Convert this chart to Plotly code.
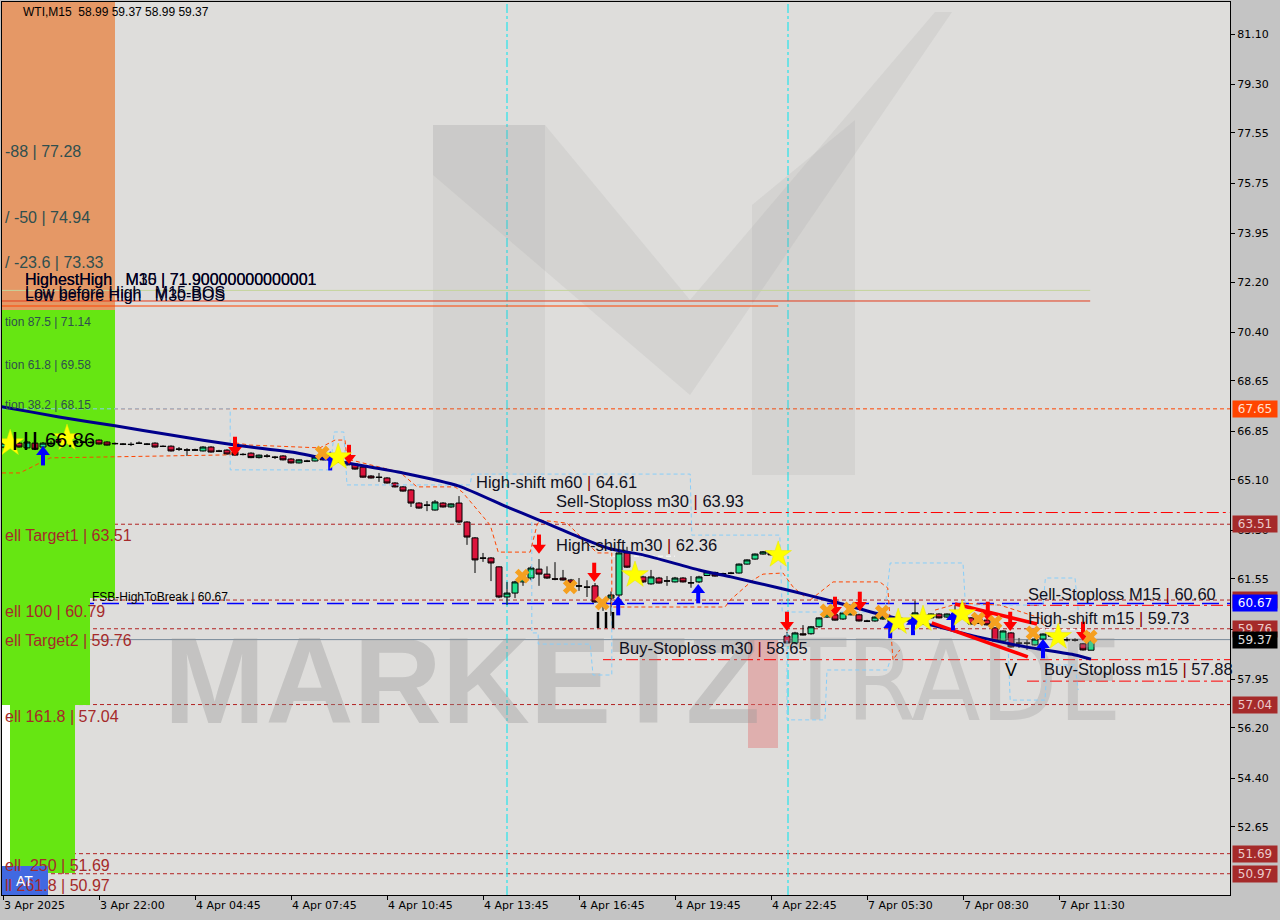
import plotly.graph_objects as go

# ---------------- data ----------------
time_labels = ["3 Apr 2025", "3 Apr 22:00", "4 Apr 04:45", "4 Apr 07:45", "4 Apr 10:45",
               "4 Apr 13:45", "4 Apr 16:45", "4 Apr 19:45", "4 Apr 22:45", "7 Apr 05:30",
               "7 Apr 08:30", "7 Apr 11:30"]
time_label_idx = [0, 12, 24, 36, 48, 60, 72, 84, 96, 108, 120, 132]

y_ticks = [81.10, 79.30, 77.55, 75.75, 73.95, 72.20, 70.40, 68.65, 66.85, 65.10,
           63.30, 61.55, 59.75, 57.95, 56.20, 54.40, 52.65]

opens = [66.28,66.38,66.42,66.25,66.42,66.28,66.42,66.55,66.45,66.42,
         66.46,66.45,66.53,66.46,66.41,66.39,66.38,66.41,66.39,66.42,
         66.31,66.31,66.21,66.18,66.18,66.14,66.28,66.14,66.17,66.10,
         66.02,66.06,65.90,65.96,65.92,65.96,65.85,65.71,65.78,65.78,
         65.92,65.82,65.88,65.74,65.67,65.56,65.24,65.20,65.17,64.99,
         64.85,64.74,64.27,64.20,64.02,64.27,64.13,64.27,63.59,63.02,
         62.30,62.30,61.98,60.90,61.04,61.44,61.58,61.90,61.72,61.55,
         61.58,61.51,61.30,61.26,61.30,60.76,60.86,60.97,62.48,61.80,
         61.62,61.37,61.58,61.48,61.44,61.58,61.40,61.44,61.67,61.78,
         61.70,61.76,61.76,62.08,62.26,62.44,62.52,62.41,59.50,59.25,
         59.58,59.58,59.83,60.18,60.26,60.11,60.26,60.26,60.04,60.04,
         60.11,60.15,60.00,60.07,60.11,60.15,60.15,60.29,60.18,60.11,
         60.33,60.15,60.12,60.07,59.79,59.32,59.61,59.25,59.25,59.18,
         59.39,59.52,59.47,59.37,59.36,59.22,58.99]
highs = [66.46,66.48,66.46,66.49,66.46,66.46,66.50,66.60,66.55,66.52,
         66.50,66.49,66.56,66.49,66.44,66.42,66.45,66.48,66.42,66.45,
         66.34,66.34,66.28,66.24,66.22,66.31,66.31,66.18,66.20,66.13,
         66.06,66.09,66.01,66.03,65.96,65.99,65.88,65.84,65.82,65.95,
         65.95,65.92,65.91,65.77,65.70,65.60,65.27,65.35,65.20,65.02,
         64.88,64.77,64.30,64.34,64.38,64.30,64.26,64.52,63.62,63.05,
         62.48,62.33,62.00,61.44,61.48,61.69,62.00,62.26,62.00,62.15,
         61.87,61.55,61.58,61.50,61.40,60.80,61.10,62.60,62.70,61.90,
         61.66,61.87,61.62,61.65,61.62,61.61,61.65,61.66,61.83,61.81,
         61.77,61.80,62.10,62.25,62.46,62.55,62.56,62.44,59.65,59.65,
         59.89,59.86,60.17,60.31,60.30,60.36,60.39,60.30,60.08,60.20,
         60.21,60.18,60.10,60.10,60.76,60.28,60.31,60.32,60.31,60.60,
         60.40,60.18,60.16,60.10,59.82,59.70,59.64,59.43,59.36,59.41,
         59.59,59.58,59.52,59.45,59.42,59.25,59.37]
lows = [66.24,66.33,66.26,66.22,66.17,66.24,66.36,66.42,66.40,66.38,
        66.42,66.41,66.37,66.33,66.37,66.35,66.32,66.39,66.35,66.26,
        66.28,66.12,66.14,65.96,66.14,66.12,66.08,66.10,66.01,65.97,
        65.98,65.88,65.87,65.90,65.85,65.80,65.69,65.69,65.74,65.76,
        65.80,65.79,65.72,65.62,65.47,65.18,65.15,65.03,64.97,64.83,
        64.68,64.13,64.07,63.98,64.00,64.11,64.10,63.55,62.77,61.76,
        62.16,61.47,60.86,60.61,60.86,61.30,61.50,61.30,61.55,61.50,
        61.49,61.37,61.12,60.90,60.70,60.40,60.22,60.90,61.94,61.65,
        61.40,61.34,61.38,61.30,61.42,61.42,61.23,61.40,61.65,61.63,
        61.68,61.72,61.74,62.06,62.24,62.42,62.39,62.32,59.22,59.22,
        59.52,59.55,59.80,60.15,60.05,60.08,60.24,60.02,60.00,60.01,
        60.08,59.98,59.96,60.03,60.08,60.12,60.12,60.13,60.15,60.08,
        60.22,59.91,59.93,59.88,59.30,59.29,59.09,59.07,59.00,59.15,
        59.36,59.45,59.40,59.30,59.30,58.98,58.99]
closes = [66.42,66.44,66.28,66.46,66.20,66.42,66.40,66.45,66.50,66.48,
          66.45,66.44,66.39,66.35,66.40,66.38,66.37,66.42,66.38,66.28,
          66.30,66.14,66.20,66.17,66.17,66.28,66.10,66.13,66.03,65.99,
          66.01,65.90,65.99,65.95,65.91,65.82,65.71,65.82,65.77,65.92,
          65.82,65.88,65.74,65.64,65.49,65.20,65.17,65.19,64.99,64.85,
          64.70,64.27,64.09,64.19,64.31,64.13,64.24,63.59,63.05,62.23,
          62.29,62.12,60.90,61.04,61.44,61.55,61.94,61.72,61.58,61.54,
          61.51,61.40,61.29,61.25,60.72,60.68,60.97,62.48,61.97,61.70,
          61.44,61.62,61.40,61.47,61.58,61.44,61.41,61.62,61.80,61.65,
          61.74,61.75,62.08,62.23,62.44,62.52,62.41,62.35,59.25,59.61,
          59.54,59.83,60.15,60.29,60.07,60.33,60.36,60.04,60.03,60.18,
          60.18,60.00,60.05,60.06,60.33,60.26,60.29,60.15,60.29,60.33,
          60.28,59.93,59.95,59.90,59.32,59.68,59.11,59.24,59.24,59.39,
          59.57,59.50,59.45,59.36,59.35,59.00,59.37]
bar_idx = list(range(len(opens)))

ma_idx = [-1, 0, 7, 14, 21, 29, 36, 43, 50, 57, 63, 67, 72, 76, 80, 87, 91, 97, 101,
          104, 110, 116, 122, 128, 134, 136]
ma_val = [67.77, 67.72, 67.36, 67.04, 66.71, 66.35, 66.10, 65.71, 65.35, 64.88, 64.13,
          63.66, 63.05, 62.62, 62.41, 61.87, 61.62, 61.22, 60.94, 60.72, 60.25, 59.89,
          59.46, 59.10, 58.82, 58.67]

lb_up_idx = [-1, 28.4, 28.4, 40.9, 41.4, 42.6, 43.0, 58.4, 58.6, 85.9, 86.1, 97.1, 97.4,
             110.2, 110.9, 120.0, 120.3, 130.0, 130.3, 134.0, 134.4]
lb_up_val = [67.65, 67.65, 65.46, 65.46, 66.82, 66.82, 64.92, 64.92, 65.31, 65.31, 63.12,
             63.12, 60.36, 60.36, 62.12, 62.12, 60.61, 60.61, 61.58, 61.58, 60.43]
lb_low_idx = [66.1, 66.1, 66.9, 66.9, 73.4, 73.75, 76.1, 76.1, None,
              98.0, 98.0, 102.75, 103.0, 110.5, 110.9, None,
              125.6, 125.9, 130.25, 130.5, 134.0, 134.4]
lb_low_val = [63.59, 59.61, 59.61, 59.21, 59.21, 58.10, 58.10, 60.79, None,
              60.36, 56.49, 56.49, 58.28, 58.28, 58.64, None,
              59.36, 57.20, 57.20, 58.46, 58.46, 57.56]
or_idx = [-1, 2.1, 5.9, 28.4, 29.0, 30.9, 39.6, 41.5, 42.75, 43.0, 49.6, 51.75, 56.5,
          57.4, 60.9, 61.9, 65.9, 66.75, 67.1, 70.5, 74.25, 76.1, 76.1, 90.25, 90.9,
          93.75, 95.0, 97.5, 98.75, 100.25, None,
          100.9, 103.75, 109.6, 110.6, 111.25, 112.1, None,
          116.5, 119.6, 124.6, 129.6, 130.25]
or_val = [65.35, 65.35, 65.89, 66.00, 66.43, 66.35, 66.25, 66.53, 66.53, 65.85, 65.38,
          64.85, 64.85, 64.67, 63.48, 62.51, 62.51, 63.48, 63.66, 63.55, 62.48, 62.48,
          60.54, 60.54, 60.79, 61.51, 61.72, 61.76, 61.26, 60.90, None,
          60.79, 61.44, 61.44, 61.22, 58.64, 59.00, None,
          60.43, 60.68, 60.61, 60.15, 59.79]

chan_up_idx = [119.0, 129.25]
chan_up_val = [60.65, 59.93]
chan_low_idx = [116.1, 128.1]
chan_low_val = [59.97, 58.75]

down_idx = [29, 43.25, 67, 73.9, 98, 104, 107.1, 123.1, 125.9, 135]
down_val = [66.28, 65.99, 62.77, 61.76, 60.00, 60.54, 60.72, 60.36, 60.00, 59.64]
up_idx = [5, 40.9, 76.9, 86.9, 110.9, 113.75, 118.75, 130]
up_val = [65.99, 65.81, 60.61, 61.04, 59.79, 59.90, 60.07, 59.07]
star_idx = [0.9, 8, 41.9, 79, 96.9, 111.9, 115, 119.9, 131.9]
star_val = [66.42, 66.60, 65.92, 61.69, 62.41, 60.00, 60.11, 60.29, 59.47]
cross_idx = [39.9, 64.9, 70.9, 74.9, 103, 105.9, 109.9, 121.9, 124, 128.75, 135.9]
cross_val = [66.07, 61.65, 61.26, 60.68, 60.40, 60.47, 60.36, 60.11, 60.00, 59.61, 59.47]

brown_levels = [63.51, 60.79, 59.76, 57.04, 51.69, 50.97]
orange_level = 67.65
blue_level = 60.67
price_level = 59.37
dashdot_levels = [(63.93, 67.1), (58.65, 75.0), (60.60, 128.0), (57.88, 128.0)]
hh_level = 71.90
bos_levels = [(71.52, 135.9, "#E23B1B"), (71.34, 96.9, "#FF4500")]

left_labels = [
    ("-88 | 77.28", 77.28, "#2F4F4F", 16),
    ("/ -50 | 74.94", 74.94, "#2F4F4F", 16),
    ("/ -23.6 | 73.33", 73.33, "#2F4F4F", 16),
    ("tion 87.5 | 71.14", 71.14, "#2F4F4F", 12),
    ("tion 61.8 | 69.58", 69.58, "#2F4F4F", 12),
    ("tion 38.2 | 68.15", 68.15, "#2F4F4F", 12),
    ("ell Target1 | 63.51", 63.51, "#A52A2A", 16),
    ("ell 100 | 60.79", 60.79, "#A52A2A", 16),
    ("ell Target2 | 59.76", 59.76, "#A52A2A", 16),
    ("ell 161.8 | 57.04", 57.04, "#A52A2A", 16),
    ("ell\u00a0\u00a0250 | 51.69", 51.69, "#A52A2A", 16),
    ("ll 261.8 | 50.97", 50.97, "#A52A2A", 16),
]

axis_tags = [
    ("67.65", 67.65, "#FF4500", "#FFE0D0"),
    ("63.51", 63.51, "#A52A2A", "#EBCBCB"),
    ("60.79", 60.79, "#A52A2A", "#EBCBCB"),
    ("60.67", 60.67, "#0000FF", "#FFFFFF"),
    ("59.76", 59.76, "#A52A2A", "#EBCBCB"),
    ("59.37", 59.37, "#000000", "#E0E0E0"),
    ("57.04", 57.04, "#A52A2A", "#EBCBCB"),
    ("51.69", 51.69, "#A52A2A", "#EBCBCB"),
    ("50.97", 50.97, "#A52A2A", "#EBCBCB"),
]

# ---------------- helpers (pixel -> axis units, for decorations) ----------------
def dx(px):
    return (px - 3) / 8.0


def dy(py):
    return 81.10 - (py - 34) / 27.87


X0, X1 = dx(2), dx(1230)
Y0, Y1 = dy(895), dy(2)
FONT = "Liberation Sans, Arial, sans-serif"

fig = go.Figure()

# watermark text
fig.add_trace(go.Scatter(x=[dx(462)], y=[dy(692)], mode="text", text=["MARKETZ"],
                         textfont=dict(size=122, family=FONT, color="rgba(150,150,150,0.36)", weight="bold"),
                         hoverinfo="skip", showlegend=False))
fig.add_trace(go.Scatter(x=[dx(953)], y=[dy(692)], mode="text", text=["TRADE"],
                         textfont=dict(size=112, family="DejaVu Sans Condensed, " + FONT,
                                       color="rgba(150,150,150,0.30)"),
                         hoverinfo="skip", showlegend=False))

# envelope step lines
fig.add_trace(go.Scatter(x=lb_up_idx, y=lb_up_val, mode="lines",
                         line=dict(color="#87CEFA", width=1, dash="4px,3px"), hoverinfo="skip",
                         showlegend=False))
fig.add_trace(go.Scatter(x=lb_low_idx, y=lb_low_val, mode="lines", connectgaps=False,
                         line=dict(color="#87CEFA", width=1, dash="4px,3px"), hoverinfo="skip",
                         showlegend=False))
fig.add_trace(go.Scatter(x=or_idx, y=or_val, mode="lines", connectgaps=False,
                         line=dict(color="#FF4500", width=1, dash="4px,3px"), hoverinfo="skip",
                         showlegend=False))

# moving average
fig.add_trace(go.Scatter(x=ma_idx, y=ma_val, mode="lines", line_shape="spline",
                         line=dict(color="#00008B", width=3, smoothing=0.6), hoverinfo="skip",
                         showlegend=False))

# candles
fig.add_trace(go.Candlestick(x=bar_idx, open=opens, high=highs, low=lows, close=closes,
                             increasing=dict(fillcolor="#1FE08C", line=dict(color="#000000", width=1)),
                             decreasing=dict(fillcolor="#DC143C", line=dict(color="#000000", width=1)),
                             whiskerwidth=0, hoverinfo="skip", showlegend=False))

# red channel lines
fig.add_trace(go.Scatter(x=chan_up_idx, y=chan_up_val, mode="lines",
                         line=dict(color="#FF0000", width=3.5), hoverinfo="skip", showlegend=False))
fig.add_trace(go.Scatter(x=chan_low_idx, y=chan_low_val, mode="lines",
                         line=dict(color="#FF0000", width=3.5), hoverinfo="skip", showlegend=False))

# signal markers
PX = 1 / 27.87
fig.add_trace(go.Scatter(x=down_idx, y=[v + 4 * PX for v in down_val], mode="markers",
                         marker=dict(symbol="line-ns", size=9, line=dict(color="#FF0000", width=4)),
                         hoverinfo="skip", showlegend=False))
fig.add_trace(go.Scatter(x=down_idx, y=[v - 3 * PX for v in down_val], mode="markers",
                         marker=dict(symbol="triangle-down", size=12, color="#FF0000", line=dict(width=0)),
                         hoverinfo="skip", showlegend=False))
fig.add_trace(go.Scatter(x=up_idx, y=[v - 4 * PX for v in up_val], mode="markers",
                         marker=dict(symbol="line-ns", size=9, line=dict(color="#0000FF", width=4)),
                         hoverinfo="skip", showlegend=False))
fig.add_trace(go.Scatter(x=up_idx, y=[v + 3 * PX for v in up_val], mode="markers",
                         marker=dict(symbol="triangle-up", size=12, color="#0000FF", line=dict(width=0)),
                         hoverinfo="skip", showlegend=False))
fig.add_trace(go.Scatter(x=star_idx, y=star_val, mode="markers",
                         marker=dict(symbol="star", size=20, color="#FFFF00", line=dict(color="#E8E800", width=0.5)),
                         hoverinfo="skip", showlegend=False))
fig.add_trace(go.Scatter(x=cross_idx, y=cross_val, mode="markers",
                         marker=dict(symbol="x", size=13, color="#F5A020", line=dict(width=0)),
                         hoverinfo="skip", showlegend=False))

shapes = []


def rect_px(x0, y0, x1, y1, color, layer="below"):
    shapes.append(dict(type="rect", xref="x", yref="y", x0=dx(x0), x1=dx(x1), y0=dy(y1), y1=dy(y0),
                       fillcolor=color, line=dict(width=0), layer=layer))


# left colour column
rect_px(2, 2, 115, 310, "#E59866")
rect_px(2, 310, 115, 598, "#66E612")
rect_px(2, 598, 90, 705, "#66E612")
rect_px(10, 705, 75, 873, "#66E612")
rect_px(2, 705, 10, 866, "#FFFFFF")
rect_px(2, 866, 48, 895, "#4169E1")


# M logo watermark
def path_px(pts):
    return "M " + " L ".join(f"{dx(a):.3f},{dy(b):.3f}" for a, b in pts) + " Z"


logo_fill = "rgba(150,150,150,0.13)"
for pts in [
    [(433, 125), (545, 125), (545, 475), (433, 475)],
    [(752, 205), (855, 120), (855, 475), (752, 475)],
    [(433, 125), (545, 125), (690, 300), (935, 12), (952, 12), (690, 395), (433, 175)],
]:
    shapes.append(dict(type="path", xref="x", yref="y", path=path_px(pts), fillcolor=logo_fill,
                       line=dict(width=0), layer="below"))
rect_px(748, 640, 778, 748, "rgba(225,120,120,0.45)")

# level lines
for lv in brown_levels:
    shapes.append(dict(type="line", xref="paper", yref="y", x0=0, x1=1, y0=lv, y1=lv,
                       line=dict(color="#B22222", width=1, dash="4px,3px"), layer="below"))
shapes.append(dict(type="line", xref="paper", yref="y", x0=0, x1=1, y0=orange_level, y1=orange_level,
                   line=dict(color="#FF4500", width=1, dash="4px,3px"), layer="below"))
shapes.append(dict(type="line", xref="paper", yref="y", x0=0, x1=1, y0=blue_level, y1=blue_level,
                   line=dict(color="#0000FF", width=1.5, dash="17px,8px"), layer="below"))
shapes.append(dict(type="line", xref="paper", yref="y", x0=0, x1=1, y0=price_level, y1=price_level,
                   line=dict(color="#778899", width=1), layer="below"))
for lv, start in dashdot_levels:
    shapes.append(dict(type="line", xref="x", yref="y", x0=start, x1=X1, y0=lv, y1=lv,
                       line=dict(color="#FF0000", width=1, dash="12px,4px,3px,4px"), layer="below"))
shapes.append(dict(type="line", xref="x", yref="y", x0=X0, x1=135.9, y0=hh_level, y1=hh_level,
                   line=dict(color="#C4D49C", width=1), layer="below"))
for lv, end, col in bos_levels:
    shapes.append(dict(type="line", xref="x", yref="y", x0=X0, x1=end, y0=lv, y1=lv,
                       line=dict(color=col, width=1), layer="below"))
# white short high-shift lines
shapes.append(dict(type="line", xref="x", yref="y", x0=dx(610), x1=dx(675), y0=62.36, y1=62.36,
                   line=dict(color="#F4F4F4", width=1.5, dash="5px,3px"), layer="below"))
shapes.append(dict(type="line", xref="x", yref="y", x0=dx(1030), x1=dx(1082), y0=59.73, y1=59.73,
                   line=dict(color="#F4F4F4", width=1.5, dash="5px,3px"), layer="below"))
# session separators
for sx in [507, 788]:
    shapes.append(dict(type="line", xref="x", yref="paper", x0=dx(sx), x1=dx(sx), y0=0, y1=1,
                       line=dict(color="#00E5EE", width=1, dash="dashdot"), layer="below"))
# black bars
for bx in [15, 26, 35]:
    shapes.append(dict(type="line", xref="x", yref="y", x0=dx(bx), x1=dx(bx), y0=dy(450), y1=dy(432),
                       line=dict(color="#000000", width=2.5), layer="above"))
for bx in [598, 606, 613]:
    shapes.append(dict(type="line", xref="x", yref="y", x0=dx(bx), x1=dx(bx), y0=dy(628), y1=dy(612),
                       line=dict(color="#000000", width=2.5), layer="above"))

annotations = []


def text_px(px, py, text, size=16, color="#101020", anchor="left", family=FONT):
    annotations.append(dict(xref="x", yref="y", x=dx(px), y=dy(py), text=text, showarrow=False,
                            xanchor=anchor, yanchor="middle", font=dict(size=size, color=color, family=family)))


for txt, lv, col, sz in left_labels:
    annotations.append(dict(xref="paper", yref="y", x=0.0008, y=lv, text=txt, showarrow=False,
                            xanchor="left", yanchor="top", yshift=-1,
                            font=dict(size=sz, color=col, family=FONT)))

BAR = "<span style='color:#8B0000'>|</span>"
nb = "\u00a0"
text_px(21, 12, f"WTI,M15{nb}{nb}58.99 59.37 58.99 59.37", 12, "#000000")
text_px(23, 279, f"HighestHigh{nb}{nb}{nb}M15 | 71.90000000000001", 16, "#000020")
text_px(23, 279, f"HighestHigh{nb}{nb}{nb}M30 | 71.90000000000001", 16, "#000020")
text_px(23, 292, f"Low before High{nb}{nb}{nb}M15-BOS", 16, "#000020")
text_px(23, 295, f"Low before High{nb}{nb}{nb}M30-BOS", 16, "#000020")
text_px(474, 482, f"High-shift m60 {BAR} 64.61", 16.5)
text_px(554, 501, f"Sell-Stoploss m30 {BAR} 63.93", 16.5)
text_px(554, 545, f"High-shift m30 {BAR} 62.36", 16.5)
text_px(617, 648, f"Buy-Stoploss m30 {BAR} 58.65", 16.5)
text_px(1026, 594, f"Sell-Stoploss M15 {BAR} 60.60", 16.5)
text_px(1026, 618, f"High-shift m15 {BAR} 59.73", 16.5)
text_px(1042, 669, f"Buy-Stoploss m15 {BAR} 57.88", 16.5)
text_px(90, 597, "FSB-HighToBreak | 60.67", 12, "#000000")
text_px(43, 440, "66.86", 20, "#000000")
text_px(1003, 670, "V", 18, "#000000")
text_px(14, 881, "AT", 14, "#FFFFFF")

for txt, lv, bg, fg in axis_tags:
    annotations.append(dict(xref="paper", yref="y", x=1.0, xshift=2, y=lv, text=txt, showarrow=False,
                            xanchor="left", yanchor="middle", bgcolor=bg, width=42, height=14,
                            align="center", font=dict(size=12, color=fg, family="DejaVu Sans, sans-serif")))

fig.update_layout(
    width=1280, height=920,
    margin=dict(l=2, r=50, t=2, b=25),
    paper_bgcolor="#C4C4C4",
    plot_bgcolor="#DEDDDB",
    showlegend=False,
    hovermode=False,
    boxgap=0.25, boxgroupgap=0,
    shapes=shapes,
    annotations=annotations,
    xaxis=dict(range=[X0, X1], tickmode="array", tickvals=time_label_idx, ticktext=time_labels,
               ticks="outside", ticklen=4, tickcolor="#000000", ticklabelposition="outside right",
               tickfont=dict(size=11, color="#000000", family="DejaVu Sans, sans-serif"),
               showgrid=False, zeroline=False, showline=True, linecolor="#000000", linewidth=1,
               mirror=True, rangeslider=dict(visible=False), fixedrange=True),
    yaxis=dict(range=[Y0, Y1], side="right", tickmode="array", tickvals=y_ticks,
               ticktext=[f"{v:.2f}" for v in y_ticks], ticks="outside", ticklen=4, tickcolor="#000000",
               tickfont=dict(size=11, color="#000000", family="DejaVu Sans, sans-serif"),
               showgrid=False, zeroline=False, showline=True, linecolor="#000000", linewidth=1,
               mirror=True, fixedrange=True),
)

fig.write_html("out.html", config={"displayModeBar": False},
               post_script="document.body.style.margin='0px';document.body.style.padding='0px';"
                           "document.body.style.background='#C4C4C4';")
